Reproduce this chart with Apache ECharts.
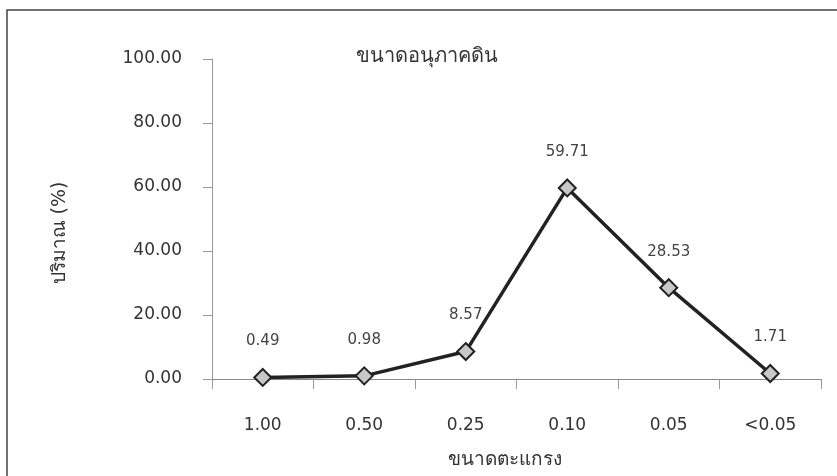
<!DOCTYPE html>
<html>
<head>
<meta charset="utf-8">
<script src="https://cdn.jsdelivr.net/npm/echarts@6/dist/echarts.min.js"></script>
<style>
html,body{margin:0;padding:0;background:#fff;}
#c{width:837px;height:476px;}
</style>
</head>
<body>
<div id="c"></div>
<script>
var categories = ['1.00', '0.50', '0.25', '0.10', '0.05', '<0.05'];
var values = [0.49, 0.98, 8.57, 59.71, 28.53, 1.71];
var titleText = 'ขนาดอนุภาคดิน';
var xName = 'ขนาดตะแกรง';
var yName = 'ปริมาณ (%)';

var chart = echarts.init(document.getElementById('c'));
var font = 'DejaVu Sans';
chart.setOption({
  backgroundColor: '#ffffff',
  animation: false,
  title: {
    text: titleText,
    left: 422,
    top: 42,
    textAlign: 'center',
    textStyle: { fontFamily: font, fontSize: 20, fontWeight: 'normal', color: '#333' }
  },
  graphic: [{
    type: 'rect',
    shape: { x: 7, y: 10, width: 900, height: 600 },
    style: { fill: null, stroke: '#444', lineWidth: 1.5 },
    silent: true
  }],
  grid: { left: 212, right: 16, top: 59, bottom: 97 },
  xAxis: {
    type: 'category',
    data: categories,
    boundaryGap: true,
    name: xName,
    nameLocation: 'middle',
    nameGap: 72,
    nameTextStyle: { fontFamily: font, fontSize: 19, color: '#333', padding: [0, 24, 0, 0] },
    axisLine: { lineStyle: { color: '#888', width: 1 } },
    axisTick: { show: true, inside: false, length: 10, lineStyle: { color: '#999' } },
    axisLabel: { fontFamily: font, fontSize: 17, color: '#333', margin: 38 }
  },
  yAxis: {
    type: 'value',
    min: 0,
    max: 100,
    interval: 20,
    name: yName,
    nameLocation: 'middle',
    nameGap: 142,
    nameRotate: 90,
    nameTextStyle: { fontFamily: font, fontSize: 19, color: '#333', padding: [0, 28, 0, 0] },
    splitLine: { show: false },
    axisLine: { show: true, lineStyle: { color: '#999', width: 1 } },
    axisTick: { show: true, length: 9, lineStyle: { color: '#999' } },
    axisLabel: {
      fontFamily: font, fontSize: 17, color: '#333', margin: 30,
      formatter: function (v) { return v.toFixed(2); }
    }
  },
  series: [{
    type: 'line',
    data: values,
    symbol: 'diamond',
    symbolSize: 17,
    lineStyle: { color: '#222', width: 3.5 },
    itemStyle: { color: '#c8c8c8', borderColor: '#222', borderWidth: 2 },
    label: {
      show: true,
      position: 'top',
      distance: 19,
      fontFamily: font,
      fontSize: 15,
      color: '#444',
      formatter: function (p) { return p.value.toFixed(2); }
    }
  }]
});
</script>
</body>
</html>
